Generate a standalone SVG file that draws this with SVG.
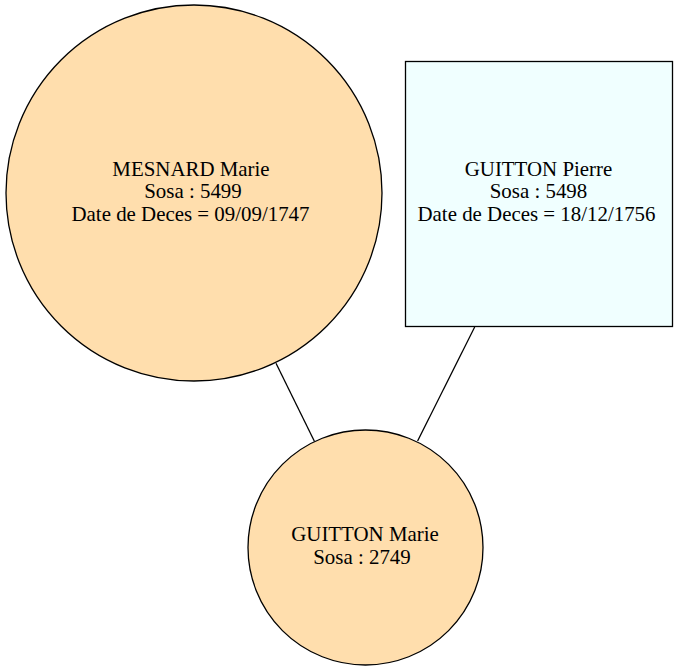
<svg xmlns="http://www.w3.org/2000/svg" width="678" height="671" viewBox="0 0 678 671">
<style>
.n{stroke:#000;stroke-width:1.3}
.f{fill:#ffdead}
.m{fill:#f0ffff}
.t{font-family:'Liberation Serif',serif;font-size:20.9px;text-anchor:middle;fill:#000}
.e{stroke:#000;stroke-width:1.3;fill:none}
</style>
<rect width="678" height="671" fill="#fff"/>
<g id="edges">
<line class="e" x1="276" y1="363.3" x2="314.5" y2="441.5"/>
<line class="e" x1="474.7" y1="327" x2="417.6" y2="441"/>
</g>
<g id="mesnard">
<circle class="n f" cx="194" cy="193" r="188"/>
<text class="t" font-family="Liberation Serif" x="191" y="176">MESNARD Marie</text>
<text class="t" font-family="Liberation Serif" x="193" y="198.4">Sosa : 5499</text>
<text class="t" font-family="Liberation Serif" x="190.5" y="220.8">Date de Deces = 09/09/1747</text>
</g>
<g id="pierre">
<rect class="n m" x="405.5" y="61.5" width="267" height="265"/>
<text class="t" font-family="Liberation Serif" x="538.5" y="176">GUITTON Pierre</text>
<text class="t" font-family="Liberation Serif" x="538.5" y="198.4">Sosa : 5498</text>
<text class="t" font-family="Liberation Serif" x="536.5" y="220.8">Date de Deces = 18/12/1756</text>
</g>
<g id="marie">
<circle class="n f" cx="365.5" cy="547.5" r="117.5"/>
<text class="t" font-family="Liberation Serif" x="365" y="540.7">GUITTON Marie</text>
<text class="t" font-family="Liberation Serif" x="362" y="563.5">Sosa : 2749</text>
</g>
</svg>
